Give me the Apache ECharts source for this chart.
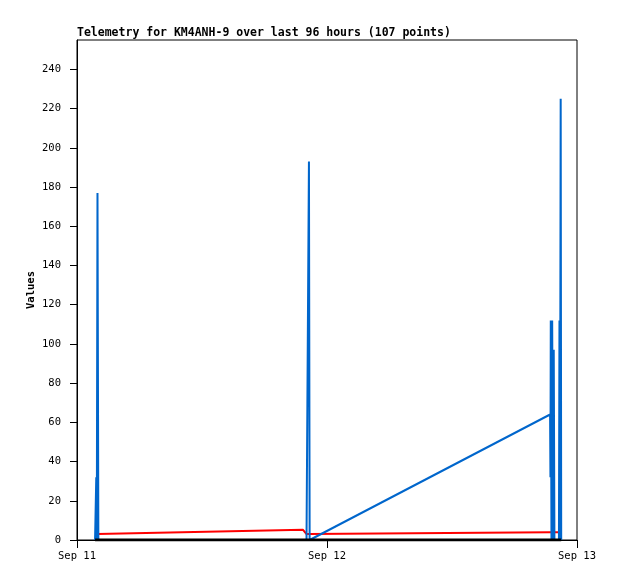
<!DOCTYPE html>
<html>
<head>
<meta charset="utf-8">
<script src="https://cdn.jsdelivr.net/npm/echarts@6/dist/echarts.min.js"></script>
<style>
html,body{margin:0;padding:0;background:#fff;}
#chart{width:618px;height:579px;}
</style>
</head>
<body>
<div id="chart"></div>
<script>
// Sample times (UTC)
const times = [
  '2024-09-11T01:44:00Z','2024-09-11T01:51:00Z','2024-09-11T01:54:00Z','2024-09-11T01:58:00Z','2024-09-11T02:03:00Z',
  '2024-09-11T21:42:00Z','2024-09-11T21:53:00Z','2024-09-11T22:02:00Z','2024-09-11T22:12:00Z','2024-09-11T22:16:00Z','2024-09-11T22:20:00Z',
  '2024-09-12T21:25:00Z','2024-09-12T21:27:00Z','2024-09-12T21:29:00Z','2024-09-12T21:33:00Z','2024-09-12T21:37:00Z',
  '2024-09-12T21:42:00Z','2024-09-12T21:46:00Z','2024-09-12T21:50:00Z','2024-09-12T22:16:00Z','2024-09-12T22:19:00Z',
  '2024-09-12T22:22:00Z','2024-09-12T22:26:00Z','2024-09-12T22:29:00Z'
];
const blackValues = [0,0,0,0,0, 0,0,0,0,0,0, 0,0,0,0,0, 0,0,0,0,0, 0,0,0];
const redValues   = [3.0,3.0,3.0,3.0,3.0, 5.2,4.6,3.0,3.0,3.0,3.0, 4.0,4.0,4.0,4.0,4.0, 4.0,4.0,4.0,4.0,4.0, 4.0,3.5,3.0];
const blueValues  = [0,32,0,177,0, 0,0,0,0,193,0, 64,32,112,0,112, 0,97,0,0,112, 0,225,0];

const yTicks = [0,20,40,60,80,100,120,140,160,180,200,220,240];
const xTicks = ['2024-09-11T00:00:00Z','2024-09-12T00:00:00Z','2024-09-13T00:00:00Z'];
const xTickLabels = ['Sep 11','Sep 12','Sep 13'];
const titleText = 'Telemetry for KM4ANH-9 over last 96 hours (107 points)';
const yName = 'Values';

const DAY = 86400000;
const tMs = times.map(t => Date.parse(t));
const xTickMs = xTicks.map(t => Date.parse(t));
const mk = vals => tMs.map((t, i) => [t, vals[i]]);

const chart = echarts.init(document.getElementById('chart'), null, {renderer: 'canvas'});
const mono = 'DejaVu Sans Mono';
chart.setOption({
  animation: false,
  backgroundColor: '#fff',
  title: {
    text: titleText,
    left: 77, top: 27, padding: 0,
    textStyle: {fontFamily: mono, fontWeight: 'bold', fontSize: 11.5, color: '#000'}
  },
  grid: {left: 77, top: 40, width: 500, height: 500, show: true, borderColor: '#000', borderWidth: 1, backgroundColor: 'transparent'},
  xAxis: {
    type: 'value',
    min: xTickMs[0], max: xTickMs[xTickMs.length - 1], interval: DAY,
    axisLine: {show: true, lineStyle: {color: '#000', width: 1}},
    axisTick: {show: true, length: 8, inside: false, lineStyle: {color: '#000'}, customValues: xTickMs},
    axisLabel: {
      customValues: xTickMs,
      margin: 11, color: '#000', fontFamily: mono, fontSize: 10.5,
      formatter: v => { const i = xTickMs.indexOf(v); return i >= 0 ? xTickLabels[i] : ''; }
    },
    splitLine: {show: false}
  },
  yAxis: {
    type: 'value',
    min: 0, max: 255, interval: 20,
    name: yName, nameLocation: 'middle', nameGap: 40, nameRotate: 90, nameMoveOverlap: false,
    nameTextStyle: {fontFamily: mono, fontWeight: 'bold', fontSize: 10.5, color: '#000'},
    axisLine: {show: true, lineStyle: {color: '#000', width: 1}},
    axisTick: {show: true, length: 7, inside: false, lineStyle: {color: '#000'}, customValues: yTicks},
    axisLabel: {customValues: yTicks, margin: 16, color: '#000', fontFamily: mono, fontSize: 10.5},
    splitLine: {show: false}
  },
  series: [
    {name: 'A2', type: 'line', data: mk(redValues), showSymbol: false, lineStyle: {color: '#ff0000', width: 2}, itemStyle: {color: '#ff0000'}, z: 2},
    {name: 'A3', type: 'line', data: mk(blueValues), showSymbol: false, lineStyle: {color: '#0066cc', width: 2}, itemStyle: {color: '#0066cc'}, z: 3},
    {name: 'A1', type: 'line', data: mk(blackValues), showSymbol: false, lineStyle: {color: '#000000', width: 3}, itemStyle: {color: '#000'}, z: 4}
  ]
});
</script>
</body>
</html>
